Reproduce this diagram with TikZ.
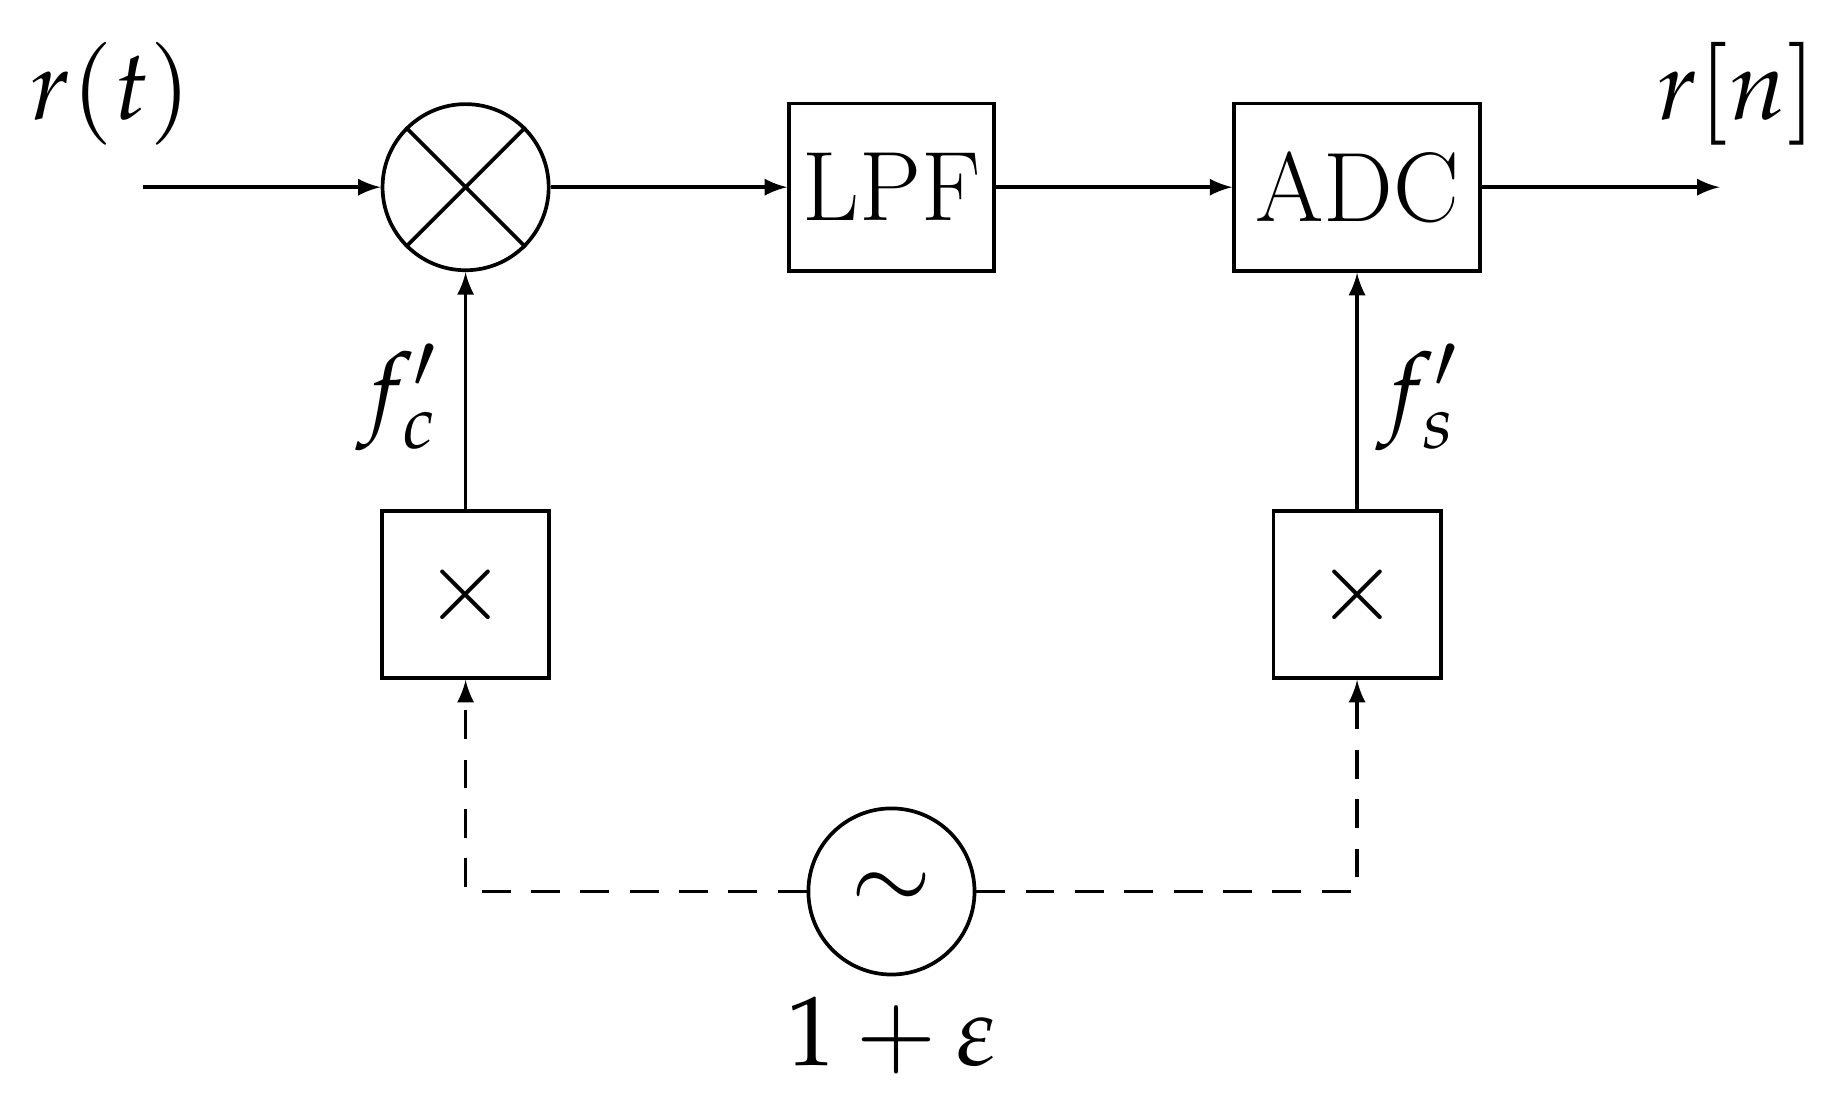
\documentclass[tikz,border=0pt]{standalone}
\usepackage{amsmath}
\usepackage{mathpazo}
\usetikzlibrary{arrows,calc,positioning}

\tikzset{
  blk/.style = {draw, line width=0.9pt, minimum width=1.75cm, minimum height=1.43cm, inner sep=0pt},
  mul/.style = {draw, line width=0.9pt, minimum size=1.43cm, inner sep=0pt},
  osc/.style = {draw, circle, line width=0.9pt, minimum size=1.42cm, inner sep=0pt},
  sig/.style = {line width=0.9pt, -latex},
  lbl/.style = {font=\fontsize{24}{28}\selectfont}
}

\begin{document}
\begin{tikzpicture}
		\useasboundingbox (0,0) rectangle (15.6,-9.38);
		
		\node[osc] (mix) at (3.98,-1.6) {};
		\draw[line width=0.9pt] (mix.north west) -- (mix.south east);
		\draw[line width=0.9pt] (mix.north east) -- (mix.south west);
		\node[blk, lbl] (lpf) at (7.62,-1.6) {LPF};
		\node[blk, lbl, minimum width=2.1cm] (adc) at (11.6,-1.6) {ADC};
		\node[mul, lbl] (mc) at (3.98,-5.08) {$\times$};
		\node[mul, lbl] (ms) at (11.6,-5.08) {$\times$};
		\node[osc, lbl] (lo) at (7.62,-7.62) {$\sim$};
		
		\coordinate (in) at (1.22,-1.6);
		\coordinate (out) at (14.7,-1.6);
		\coordinate (cl) at (3.98,-7.62);
		\coordinate (cr) at (11.6,-7.62);
		
		\node[lbl] at (0.95,-0.8) {$r(t)$};
		\node[lbl] at (14.85,-0.8) {$r[n]$};
		\node[lbl] at (3.4,-3.4) {$f_c'$};
		\node[lbl] at (12.12,-3.4) {$f_s'$};
		\node[lbl, below=0.05cm of lo] {$1+\varepsilon$};
		
		\draw[sig] (in) -- (mix);
		\draw[sig] (mix) -- (lpf);
		\draw[sig] (lpf) -- (adc);
		\draw[sig] (adc) -- (out);
		\draw[sig] (mc) -- (mix);
		\draw[sig] (ms) -- (adc);
		\draw[sig, dash pattern=on 7pt off 5pt] (lo) -- (cl) -- (mc);
		\draw[sig, dash pattern=on 7pt off 5pt] (lo) -- (cr) -- (ms);
\end{tikzpicture}
\end{document}
